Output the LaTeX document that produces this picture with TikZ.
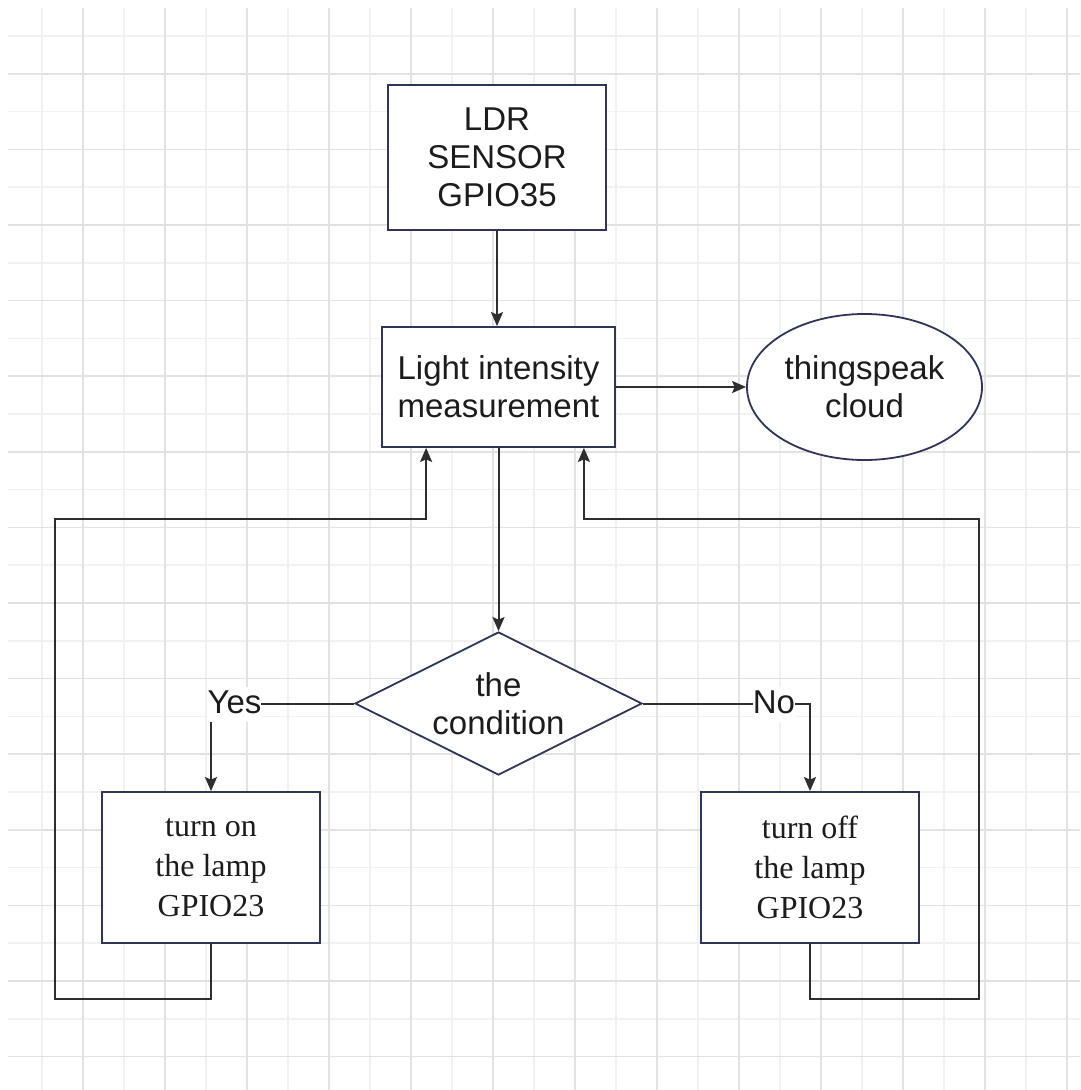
\documentclass[tikz,border=0pt]{standalone}
\usepackage{fontspec}
\setmainfont{Liberation Sans}
\newfontfamily\lampfont{Liberation Serif}
\usetikzlibrary{shapes.geometric,arrows.meta}

\definecolor{gridL}{HTML}{F1F1F1}
\definecolor{gridD}{HTML}{E2E2E2}
\definecolor{edge}{HTML}{2F3559}
\definecolor{wire}{HTML}{2E2E2E}
\definecolor{ink}{HTML}{1C1C1C}

\tikzset{
  boxstyle/.style={draw=edge, line width=1.8pt, fill=white, text=ink, align=center,
    inner sep=0pt, font=\fontsize{33}{38}\selectfont},
  lampbox/.style={boxstyle, font=\lampfont\fontsize{32}{40}\selectfont,
    minimum width=218pt, minimum height=151pt},
  conn/.style={draw=wire, line width=2pt},
  arr/.style={conn, -{Stealth[length=14pt,width=12pt,inset=2.5pt]}},
  lbl/.style={fill=white, text=ink, inner sep=0pt, text height=26pt, text depth=9pt,
    anchor=base, font=\fontsize{33}{38}\selectfont},
}

\begin{document}
\begin{tikzpicture}[x=1pt,y=-1pt]
  % canvas and page margins
  \fill[white] (0,0) rectangle (1080,1090);
  \useasboundingbox (0,0) rectangle (1080,1090);

  % background grid: light lines, then the darker major lines
  \foreach \j in {0,...,12}{
    \draw[gridL, line width=1.5pt] ({42+82*\j},8) -- ({42+82*\j},1090);
  }
  \foreach \j in {0,...,13}{
    \draw[gridL, line width=1.5pt] (8,{36+75.6*\j}) -- (1080,{36+75.6*\j});
  }
  \foreach \j in {0,...,12}{
    \draw[gridD, line width=1.5pt] ({83+82*\j},8) -- ({83+82*\j},1090);
  }
  \foreach \j in {0,...,13}{
    \draw[gridD, line width=1.5pt] (8,{73.8+75.6*\j}) -- (1080,{73.8+75.6*\j});
  }

  % blocks
  \node[boxstyle, minimum width=218pt, minimum height=145pt] (ldr) at (497,157.5)
    {LDR\\SENSOR\\GPIO35};
  \node[boxstyle, minimum width=233pt, minimum height=120pt] (meas) at (498.5,387)
    {Light intensity\\measurement};
  \node[boxstyle, ellipse, minimum width=235pt, minimum height=146pt] (cloud) at (864.5,387)
    {thingspeak\\cloud};
  \node[boxstyle, diamond, aspect=2, minimum width=287pt, minimum height=143pt] (cond) at (498.5,703.5)
    {the\\condition};
  \node[lampbox] (on) at (211,867.5) {turn on\\the lamp\\GPIO23};
  \node[lampbox] (off) at (810,867.5) {turn off\\the lamp\\GPIO23};

  % feedback corners
  \coordinate (lb) at (55,999);
  \coordinate (lt) at (55,519);
  \coordinate (rb) at (979,999);
  \coordinate (rt) at (979,519);

  % connectors
  \draw[arr] (ldr.south) -- (ldr.south |- meas.north);
  \draw[arr] (meas.east) -- (cloud.west);
  \draw[arr] (meas.south -| cond.north) -- (cond.north);
  \draw[arr] (cond.west) -| (on.north);
  \draw[arr] (cond.east) -| (off.north);
  \draw[arr] (on.south) |- (lb) -- (lt) -| ([xshift=45pt]meas.south west);
  \draw[arr] (off.south) |- (rb) -- (rt) -| ([xshift=-32pt]meas.south east);

  % branch labels
  \node[lbl] (yes) at (234.5,713) {Yes};
  \node[lbl] (no) at (774,713) {No};
\end{tikzpicture}
\end{document}
